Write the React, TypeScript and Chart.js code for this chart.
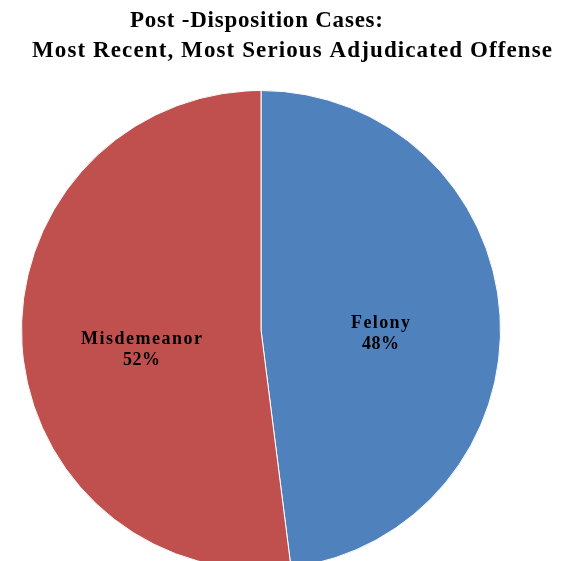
import React, { useEffect, useRef } from "react";
import { Chart, registerables } from "chart.js";

Chart.register(...registerables);

const categories: string[] = ["Felony", "Misdemeanor"];
const values: number[] = [48, 52];
const colors: string[] = ["#4F81BD", "#C0504D"];
const titleLines: string[] = [
  "Post -Disposition Cases:",
  "Most Recent, Most Serious Adjudicated Offense",
];

const SERIF = '"Liberation Serif", "DejaVu Serif", serif';

function drawFitted(
  ctx: CanvasRenderingContext2D,
  text: string,
  cx: number,
  baseline: number,
  size: number,
  targetWidth: number
) {
  ctx.save();
  ctx.font = `bold ${size}px ${SERIF}`;
  (ctx as any).letterSpacing = "0px";
  const w = ctx.measureText(text).width;
  const n = Math.max(text.length - 1, 1);
  const ls = (targetWidth - w) / n;
  (ctx as any).letterSpacing = `${ls}px`;
  const w2 = ctx.measureText(text).width;
  ctx.textAlign = "left";
  ctx.textBaseline = "alphabetic";
  ctx.fillStyle = "#000";
  ctx.fillText(text, cx - (w2 - ls) / 2, baseline);
  ctx.restore();
}

const titlePlugin = {
  id: "customTitle",
  afterDraw(chart: any) {
    const ctx = chart.ctx as CanvasRenderingContext2D;
    drawFitted(ctx, titleLines[0], 256.5, 27, 23, 253);
    drawFitted(ctx, titleLines[1], 292, 57, 23, 520);
  },
};

const labelPlugin = {
  id: "sliceLabels",
  afterDatasetsDraw(chart: any) {
    const ctx = chart.ctx as CanvasRenderingContext2D;
    const meta = chart.getDatasetMeta(0);
    const total = values.reduce((a, b) => a + b, 0);
    const widths = [59, 121];
    const pctWidths = [37, 37];
    meta.data.forEach((arc: any, i: number) => {
      const p = arc.tooltipPosition();
      const pct = Math.round((values[i] / total) * 100) + "%";
      const cy = p.y + 9;
      drawFitted(ctx, categories[i], p.x, cy - 3, 18, widths[i]);
      drawFitted(ctx, pct, p.x, cy + 18, 18, pctWidths[i]);
    });
  },
};

export default function App() {
  const ref = useRef<HTMLCanvasElement | null>(null);
  useEffect(() => {
    if (!ref.current) return;
    const chart = new Chart(ref.current, {
      type: "pie",
      data: {
        labels: categories,
        datasets: [
          {
            data: values,
            backgroundColor: colors,
            borderColor: "#ffffff",
            borderWidth: 1,
          },
        ],
      },
      options: {
        responsive: false,
        animation: false,
        devicePixelRatio: 1,
        layout: { padding: { left: 20, right: 66, top: 90, bottom: 5 } },
        plugins: {
          legend: { display: false },
          tooltip: { enabled: false },
          title: { display: false },
        },
      },
      plugins: [labelPlugin, titlePlugin],
    });
    return () => chart.destroy();
  }, []);
  return (
    <div
      style={{
        position: "fixed",
        left: 0,
        top: 0,
        width: 568,
        height: 561,
        overflow: "hidden",
        background: "#fff",
      }}
    >
      <canvas ref={ref} width={568} height={575} style={{ display: "block" }} />
    </div>
  );
}
